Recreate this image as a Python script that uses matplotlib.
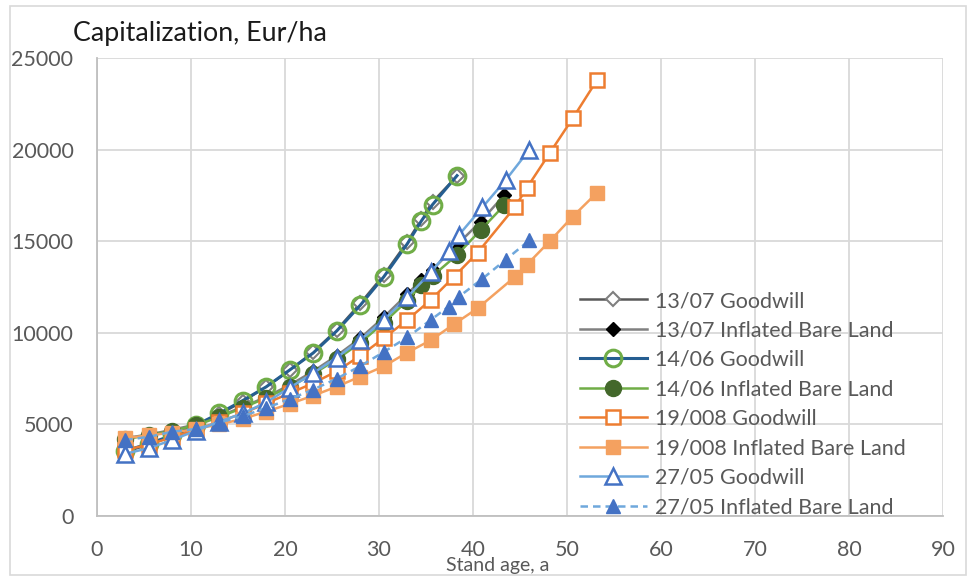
import matplotlib
matplotlib.use('Agg')
import matplotlib.pyplot as plt
from matplotlib.patches import Rectangle

plt.rcParams['font.family'] = ['Lato', 'DejaVu Sans']

# ---- data ----
age_1307 = [3, 5.5, 8, 10.5, 13, 15.5, 18, 20.5, 23, 25.5, 28, 30.5, 33, 34.5, 35.7, 38.3]
g_1307 = [3500, 3900, 4350, 4900, 5550, 6250, 7050, 7950, 8950, 10150, 11600, 13150, 14950, 16200, 17150, 18550]
age_1307_ibl = [3, 5.5, 8, 10.5, 13, 15.5, 18, 20.5, 23, 25.5, 28, 30.5, 33, 34.5, 35.7, 38.3, 40.8, 43.3]
ibl_1307 = [4250, 4450, 4700, 5000, 5450, 5950, 6500, 7150, 7900, 8750, 9700, 10850, 12100, 12900, 13450, 14800, 16070, 17500]

age_1406 = [3, 5.5, 8, 10.5, 13, 15.5, 18, 20.5, 23, 25.5, 28, 30.5, 33, 34.5, 35.7, 38.3]
g_1406 = [3550, 3950, 4400, 4950, 5600, 6300, 7050, 7970, 8900, 10100, 11500, 13050, 14850, 16100, 17000, 18580]
age_1406_ibl = [3, 5.5, 8, 10.5, 13, 15.5, 18, 20.5, 23, 25.5, 28, 30.5, 33, 34.5, 35.7, 38.3, 40.8, 43.3]
ibl_1406 = [4200, 4400, 4650, 4950, 5400, 5900, 6450, 7050, 7750, 8550, 9450, 10550, 11750, 12600, 13100, 14250, 15600, 16950]

age_19008 = [3, 5.5, 8, 10.5, 13, 15.5, 18, 20.5, 23, 25.5, 28, 30.5, 33, 35.5, 38, 40.5, 44.5, 45.7, 48.2, 50.6, 53.2]
g_19008 = [3600, 3900, 4300, 4700, 5150, 5600, 6150, 6700, 7250, 7900, 8750, 9700, 10700, 11790, 13070, 14380, 16890, 17890, 19840, 21700, 23800]
ibl_19008 = [4250, 4400, 4550, 4750, 5000, 5300, 5700, 6120, 6570, 7060, 7610, 8170, 8920, 9590, 10480, 11340, 13070, 13700, 15020, 16340, 17650]

age_2705 = [3, 5.5, 8, 10.5, 13, 15.5, 18, 20.5, 23, 25.5, 28, 30.5, 33, 35.5, 37.4, 38.5, 41, 43.5, 46]
g_2705 = [3400, 3700, 4150, 4650, 5150, 5600, 6200, 7000, 7800, 8650, 9600, 10700, 11950, 13300, 14450, 15340, 16850, 18350, 20000]
ibl_2705 = [4150, 4320, 4600, 4750, 5100, 5450, 5900, 6380, 6900, 7500, 8180, 8950, 9750, 10700, 11430, 11970, 12950, 14000, 15050]

labels = ['13/07 Goodwill', '13/07 Inflated Bare Land', '14/06 Goodwill', '14/06 Inflated Bare Land',
          '19/008 Goodwill', '19/008 Inflated Bare Land', '27/05 Goodwill', '27/05 Inflated Bare Land']
x_ticks = [0, 10, 20, 30, 40, 50, 60, 70, 80, 90]
y_ticks = [0, 5000, 10000, 15000, 20000, 25000]

# ---- figure ----
W, H = 975, 579
fig = plt.figure(figsize=(W / 100, H / 100), dpi=100)
ax = fig.add_axes([97 / W, 1 - 516 / H, (943 - 97) / W, (516 - 58) / H])

fig.patches.append(Rectangle((10 / W, 4 / H), (966 - 10) / W, (573 - 4) / H, transform=fig.transFigure,
                             fill=False, edgecolor='#d9d9d9', linewidth=1.2))

lw = 1.8
ax.plot(age_1307, g_1307, color='#595959', lw=lw, marker='D', ms=7, mfc='white', mec='#7f7f7f', mew=1.5, label=labels[0])
ax.plot(age_1307_ibl, ibl_1307, color='#808080', lw=lw, marker='D', ms=7.5, mfc='black', mec='black', label=labels[1])
ax.plot(age_1406, g_1406, color='#255e91', lw=lw + 0.4, marker='o', ms=12, mfc='none', mec='#70ad47', mew=2.2, label=labels[2])
ax.plot(age_1406_ibl, ibl_1406, color='#70ad47', lw=lw, marker='o', ms=11.5, mfc='#43682b', mec='#43682b', label=labels[3])
ax.plot(age_19008, g_19008, color='#ed7d31', lw=lw, marker='s', ms=10, mfc='white', mec='#ed7d31', mew=1.8, label=labels[4])
ax.plot(age_19008, ibl_19008, color='#f4a160', lw=lw, marker='s', ms=10, mfc='#f4a160', mec='#f4a160', label=labels[5])
ax.plot(age_2705, g_2705, color='#6fa8dc', lw=lw, marker='^', ms=12, mfc='white', mec='#4472c4', mew=1.8, label=labels[6])
ax.plot(age_2705, ibl_2705, color='#6fa8dc', lw=lw, ls=(0, (3, 2)), marker='^', ms=9.5, mfc='#4472c4', mec='#4472c4', label=labels[7])

ax.set_xlim(0, 90)
ax.set_ylim(0, 25000)
ax.set_xticks(x_ticks)
ax.set_yticks(y_ticks)
ax.grid(True, color='#d9d9d9', lw=1.3)
ax.set_axisbelow(True)
for s in ['top', 'right']:
    ax.spines[s].set_visible(False)
for s in ['left', 'bottom']:
    ax.spines[s].set_color('#bfbfbf')
    ax.spines[s].set_linewidth(1.3)
ax.tick_params(length=0, labelsize=15.5, labelcolor='#595959')
ax.tick_params(axis='y', pad=17)
ax.tick_params(axis='x', pad=17)

fig.text(73 / W, 1 - 33 / H, 'Capitalization, Eur/ha', fontsize=19.3, color='#1a1a1a', va='center', ha='left')
fig.text(498 / W, 1 - 566 / H, 'Stand age, a', fontsize=14, color='#595959', va='center', ha='center')

leg = ax.legend(loc='upper left', bbox_to_anchor=(580 / W, 1 - 291 / H), bbox_transform=fig.transFigure,
                frameon=False, fontsize=15.5, handlelength=3.1, handletextpad=0.4, labelspacing=0.44,
                borderpad=0, borderaxespad=0, labelcolor='#595959')

fig.savefig('out.png', dpi=100)
